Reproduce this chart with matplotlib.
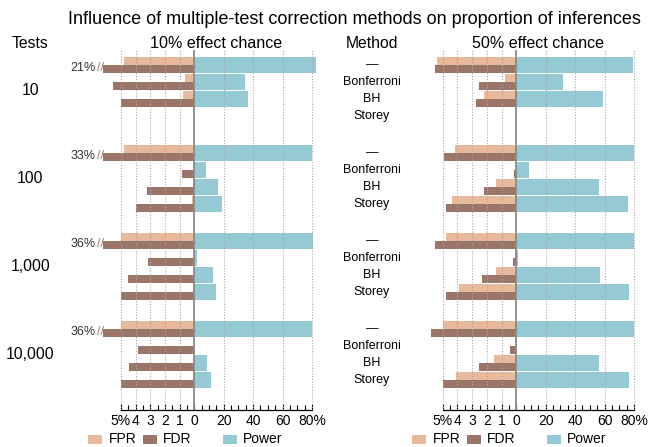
import numpy as np
import matplotlib.pyplot as plt
from matplotlib.transforms import blended_transform_factory
from matplotlib.patches import Rectangle

plt.rcParams['font.family'] = ['Liberation Sans', 'DejaVu Sans']

nan = np.nan

tests = ['10', '100', '1,000', '10,000']
methods = ['\u2014', 'Bonferroni', 'BH', 'Storey']
panels = ['10% effect chance', '50% effect chance']

# rows = number of tests, columns = methods; all values in %
fpr_10 = [[4.8, 0.64, 0.77, nan],
          [4.75, 0.0, 0.07, 0.16],
          [5.0, 0.0, 0.0, 0.09],
          [5.0, 0.0, 0.0, 0.0]]
fdr_10 = [[21, 5.5, 5.0, nan],
          [33, 0.84, 3.24, 4.0],
          [36, 3.17, 4.54, 4.97],
          [36, 3.86, 4.47, 4.97]]
power_10 = [[83, 34.3, 36.3, nan],
            [80, 7.7, 15.9, 18.8],
            [80.7, 1.6, 12.4, 15.1],
            [80, 0.3, 8.6, 11.1]]

fpr_50 = [[5.4, 0.76, 2.18, nan],
          [4.2, 0.0, 1.35, 4.4],
          [4.75, 0.0, 1.37, 3.9],
          [5.0, 0.0, 1.49, 4.07]]
fdr_50 = [[5.55, 2.57, 2.72, nan],
          [4.9, 0.16, 2.18, 4.8],
          [5.56, 0.2, 2.36, 4.75],
          [5.83, 0.43, 2.52, 5.0]]
power_50 = [[79.2, 32, 58.8, nan],
            [80, 8.4, 56, 75.8],
            [80, 1.2, 57, 76.7],
            [80, 0.2, 56.3, 76.4]]

FPR_C = '#E8B99B'
FDR_C = '#9B7668'
POW_C = '#95C9D4'

W, H = 652, 447
fig = plt.figure(figsize=(W / 100, H / 100), dpi=100)


def fx(px):
    return px / W


def fy(py):
    return 1 - py / H


row_px = 17.0
unit_px = 14.7
top_px, bot_px = 50, 410
first_row_px = 65
block_gap = 88 / row_px
cap = 6.2          # where too-large FDR bars get cut
x_lo, x_hi = -6.5, 8.3
zeros_px = [194.3, 516.3]

major = [-5, -4, -3, -2, -1, 0, 2, 4, 6, 8]
major_lbl = ['5%', '4', '3', '2', '1', '0', '20', '40', '60', '80%']


def draw_panel(ax, fpr, fdr, power):
    fpr = np.array(fpr, float)
    fdr = np.array(fdr, float)
    power = np.array(power, float)
    for b in range(len(tests)):
        ys = b * block_gap + np.arange(len(methods))
        for r, y in enumerate(ys):
            if np.isnan(power[b, r]):
                continue
            ax.barh(y - 0.235, -fpr[b, r], height=0.47, color=FPR_C, lw=0, zorder=2)
            v = fdr[b, r]
            ax.barh(y + 0.235, -min(v, cap), height=0.47, color=FDR_C, lw=0, zorder=2)
            ax.barh(y, power[b, r] / 10, height=0.94, color=POW_C, lw=0, zorder=2)
            if v > cap:
                ax.text(-6.38, y + 0.2, '//', color=FDR_C, fontsize=9,
                        ha='center', va='center', clip_on=False)
                ax.text(-6.72, y + 0.18, '%d%%' % round(v), color='#333333',
                        fontsize=9, ha='right', va='center', clip_on=False)

    for x in [-5, -4, -3, -2, -1, 2, 4, 6, 8]:
        ax.axvline(x, color='#a8a8a8', lw=0.8, ls=(0, (1, 1.5)), zorder=3)
    ax.axvline(0, color='#8a8a8a', lw=1.3, zorder=4)

    ax.set_xlim(x_lo, x_hi)
    ax.set_ylim((bot_px - first_row_px) / row_px, (top_px - first_row_px) / row_px)
    for s in ['top', 'right', 'left']:
        ax.spines[s].set_visible(False)
    ax.spines['bottom'].set_bounds(-5, 8)
    ax.spines['bottom'].set_linewidth(0.9)
    ax.set_yticks([])
    ax.set_xticks(major)
    ax.set_xticklabels(major_lbl, fontsize=10)
    ax.set_xticks(np.arange(-5, 8.01, 0.5), minor=True)
    ax.tick_params(axis='x', which='both', direction='in', width=0.8, pad=3)
    ax.tick_params(axis='x', which='major', length=4.5)
    ax.tick_params(axis='x', which='minor', length=3.5)


axes = []
for zero, fpr, fdr, power in [(zeros_px[0], fpr_10, fdr_10, power_10),
                              (zeros_px[1], fpr_50, fdr_50, power_50)]:
    left = zero + x_lo * unit_px
    width = (x_hi - x_lo) * unit_px
    ax = fig.add_axes([fx(left), fy(bot_px), width / W, (bot_px - top_px) / H])
    ax.patch.set_alpha(0)
    draw_panel(ax, fpr, fdr, power)
    axes.append(ax)

# titles and headers
fig.text(fx(354), fy(20), 'Influence of multiple-test correction methods on proportion of inferences',
         ha='center', va='center', fontsize=13)
fig.text(fx(30.5), fy(43), 'Tests', ha='center', va='center', fontsize=11.3)
fig.text(fx(372), fy(43), 'Method', ha='center', va='center', fontsize=11.3)
for zero, name in zip(zeros_px, panels):
    fig.text(fx(zero + 22.2), fy(43), name, ha='center', va='center', fontsize=11.6)

# row labels
tr = blended_transform_factory(fig.transFigure, axes[0].transData)
for b, t in enumerate(tests):
    fig.text(fx(30.5), b * block_gap + 1.5, t, transform=tr, ha='center', va='center', fontsize=11.3)
    for r, m in enumerate(methods):
        fig.text(fx(372), b * block_gap + r, m, transform=tr, ha='center', va='center', fontsize=9)

# legends under each panel
for k, zero in enumerate(zeros_px):
    off = zero + 2 * k
    for dx_patch, dx_text, col, lbl in [(-106.3, -85.3, FPR_C, 'FPR'),
                                        (-51.3, -31.3, FDR_C, 'FDR'),
                                        (28.7, 48.7, POW_C, 'Power')]:
        fig.add_artist(Rectangle((fx(off + dx_patch), fy(444)), 14 / W, 9 / H,
                                 transform=fig.transFigure, color=col, lw=0))
        fig.text(fx(off + dx_text), fy(439), lbl, ha='left', va='center', fontsize=10)

fig.savefig('out.png', dpi=100)
